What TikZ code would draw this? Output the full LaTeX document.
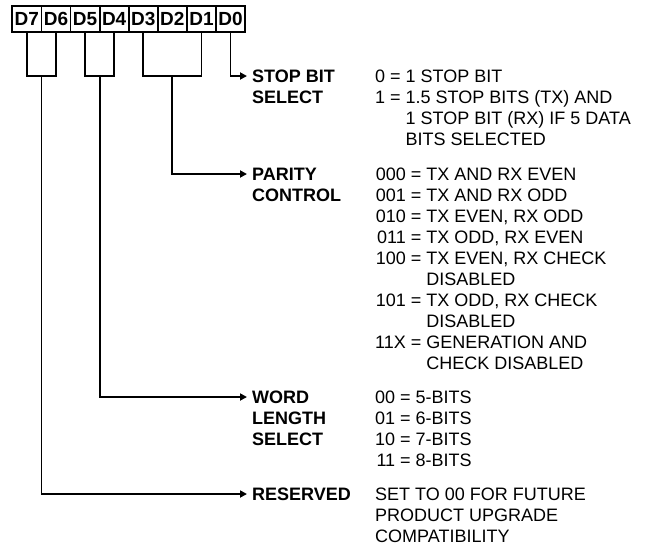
\documentclass[tikz,border=0pt]{standalone}
\usepackage{fontspec}
\setmainfont{Liberation Sans}
\usetikzlibrary{arrows.meta}
\begin{document}
\begin{tikzpicture}[x=1pt,y=-1pt,
  bitbox/.style={draw, line width=1.8pt, minimum width=29.1pt, minimum height=26pt, inner sep=0pt, font=\fontsize{19}{21}\selectfont\bfseries},
  wire/.style={line width=1.8pt},
  arr/.style={wire, -{Triangle[length=7pt,width=7pt]}},
  lbl/.style={anchor=base west, inner sep=0pt, font=\fontsize{18}{21}\selectfont\bfseries},
  desc/.style={anchor=base west, inner sep=0pt, font=\fontsize{18}{21}\selectfont}]
\useasboundingbox (0,0) rectangle (652,546);

% bit boxes
\node[bitbox] (d7) at (26.85,19) {D7};
\node[bitbox] (d6) at (55.95,19) {D6};
\node[bitbox] (d5) at (85.05,19) {D5};
\node[bitbox] (d4) at (114.15,19) {D4};
\node[bitbox] (d3) at (143.25,19) {D3};
\node[bitbox] (d2) at (172.35,19) {D2};
\node[bitbox] (d1) at (201.45,19) {D1};
\node[bitbox] (d0) at (230.55,19) {D0};

% labels
\node[lbl] (stop) at (252,82.4) {\begin{tabular}[t]{@{}l@{}}STOP BIT\\SELECT\end{tabular}};
\node[lbl] (par) at (252,180.4) {\begin{tabular}[t]{@{}l@{}}PARITY\\CONTROL\end{tabular}};
\node[lbl] (word) at (252,403.4) {\begin{tabular}[t]{@{}l@{}}WORD\\LENGTH\\SELECT\end{tabular}};
\node[lbl] (res) at (252,500.4) {\begin{tabular}[t]{@{}l@{}}RESERVED\end{tabular}};

% descriptions
\node[desc] (stopd) at (375,82.4) {\begin{tabular}[t]{@{}r@{\ }c@{\ }l@{}}
0 & = & 1 STOP BIT\\
1 & = & 1.5 STOP BITS (TX) AND\\
  &   & 1 STOP BIT (RX) IF 5 DATA\\
  &   & BITS SELECTED
\end{tabular}};
\node[desc] (pard) at (375,180.4) {\begin{tabular}[t]{@{}r@{\ }c@{\ }l@{}}
000 & = & TX AND RX EVEN\\
001 & = & TX AND RX ODD\\
010 & = & TX EVEN, RX ODD\\
011 & = & TX ODD, RX EVEN\\
100 & = & TX EVEN, RX CHECK\\
    &   & DISABLED\\
101 & = & TX ODD, RX CHECK\\
    &   & DISABLED\\
11X & = & GENERATION AND\\
    &   & CHECK DISABLED
\end{tabular}};
\node[desc] (wordd) at (375,403.4) {\begin{tabular}[t]{@{}r@{\ }c@{\ }l@{}}
00 & = & 5-BITS\\
01 & = & 6-BITS\\
10 & = & 7-BITS\\
11 & = & 8-BITS
\end{tabular}};
\node[desc] (resd) at (375,500.4) {\begin{tabular}[t]{@{}l@{}}
SET TO 00 FOR FUTURE\\
PRODUCT UPGRADE\\
COMPATIBILITY
\end{tabular}};

% connectors
\coordinate (jy) at (0,76);
\draw[wire] (d7.south) -- (d7.south |- jy) -- (d6.south |- jy) -- (d6.south);
\draw[wire] (d5.south) -- (d5.south |- jy) -- (d4.south |- jy) -- (d4.south);
\draw[wire] (d3.south) -- (d3.south |- jy) -- (d1.south |- jy) -- (d1.south);
\path (d7.south |- jy) -- coordinate[midway] (m76) (d6.south |- jy);
\path (d5.south |- jy) -- coordinate[midway] (m54) (d4.south |- jy);

\draw[arr] (d0.south) |- ([xshift=-5pt,yshift=6.4pt]stop.base west);
\draw[arr] (d2.south |- jy) |- ([xshift=-5pt,yshift=6.4pt]par.base west);
\draw[arr] (m54) |- ([xshift=-5pt,yshift=6.4pt]word.base west);
\draw[arr] (m76) |- ([xshift=-5pt,yshift=6.4pt]res.base west);
\end{tikzpicture}
\end{document}
